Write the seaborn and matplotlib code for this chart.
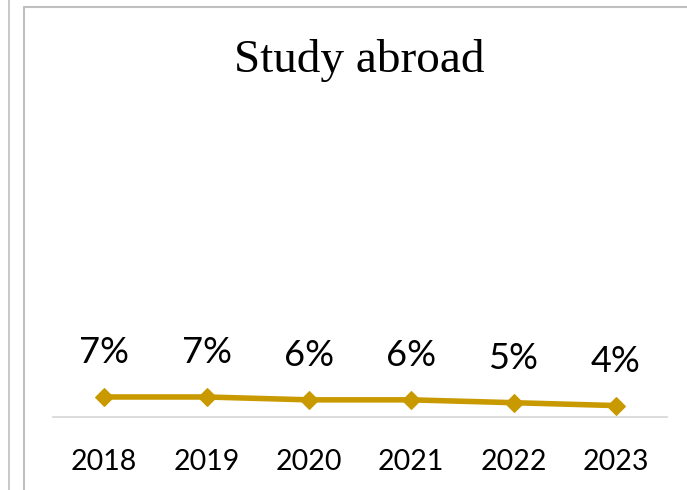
import seaborn as sns
import matplotlib.pyplot as plt
from matplotlib.lines import Line2D
import pandas as pd

# data
years = ["2018", "2019", "2020", "2021", "2022", "2023"]
share = [0.07, 0.07, 0.06, 0.06, 0.05, 0.04]
labels = ["7%", "7%", "6%", "6%", "5%", "4%"]

df = pd.DataFrame({"year": years, "share": share})
gold = "#C99A00"

sns.set_style("white")
fig = plt.figure(figsize=(6.87, 4.90), dpi=100)
ax = fig.add_axes([53 / 687, 73 / 490, 614 / 687, 286 / 490])

sns.lineplot(data=df, x="year", y="share", ax=ax, color=gold, linewidth=4,
             marker="D", markersize=9.5, markeredgecolor=gold, sort=False)

for i, (v, lab) in enumerate(zip(share, labels)):
    ax.annotate(lab, (i, v), xytext=(0, 32), textcoords="offset points",
                ha="center", va="center", fontsize=26, family="Lato",
                color="black")

ax.set_xlim(-0.5, len(years) - 0.5)
ax.set_ylim(0, 1)
ax.set_yticks([])
ax.set_xlabel("")
ax.set_ylabel("")
ax.tick_params(axis="x", length=0, pad=23, labelsize=20.5, labelcolor="black")
for t in ax.get_xticklabels():
    t.set_family("Lato")

for s in ["top", "right", "left"]:
    ax.spines[s].set_visible(False)
ax.spines["bottom"].set_color("#D9D9D9")
ax.spines["bottom"].set_linewidth(1.3)

fig.text(359 / 687, 1 - 60 / 490, "Study abroad", ha="center", va="center",
         fontsize=34, family="Liberation Serif", color="black")

# frame lines of the original chart
edge = "#BFBFBF"
fig.add_artist(Line2D([9 / 687, 9 / 687], [0, 1], color=edge, lw=1.2))
fig.add_artist(Line2D([24 / 687, 24 / 687], [0, 1 - 7 / 490], color=edge, lw=1.5))
fig.add_artist(Line2D([24 / 687, 1], [1 - 7 / 490, 1 - 7 / 490], color=edge, lw=1.5))

fig.savefig("out.png", dpi=100)
